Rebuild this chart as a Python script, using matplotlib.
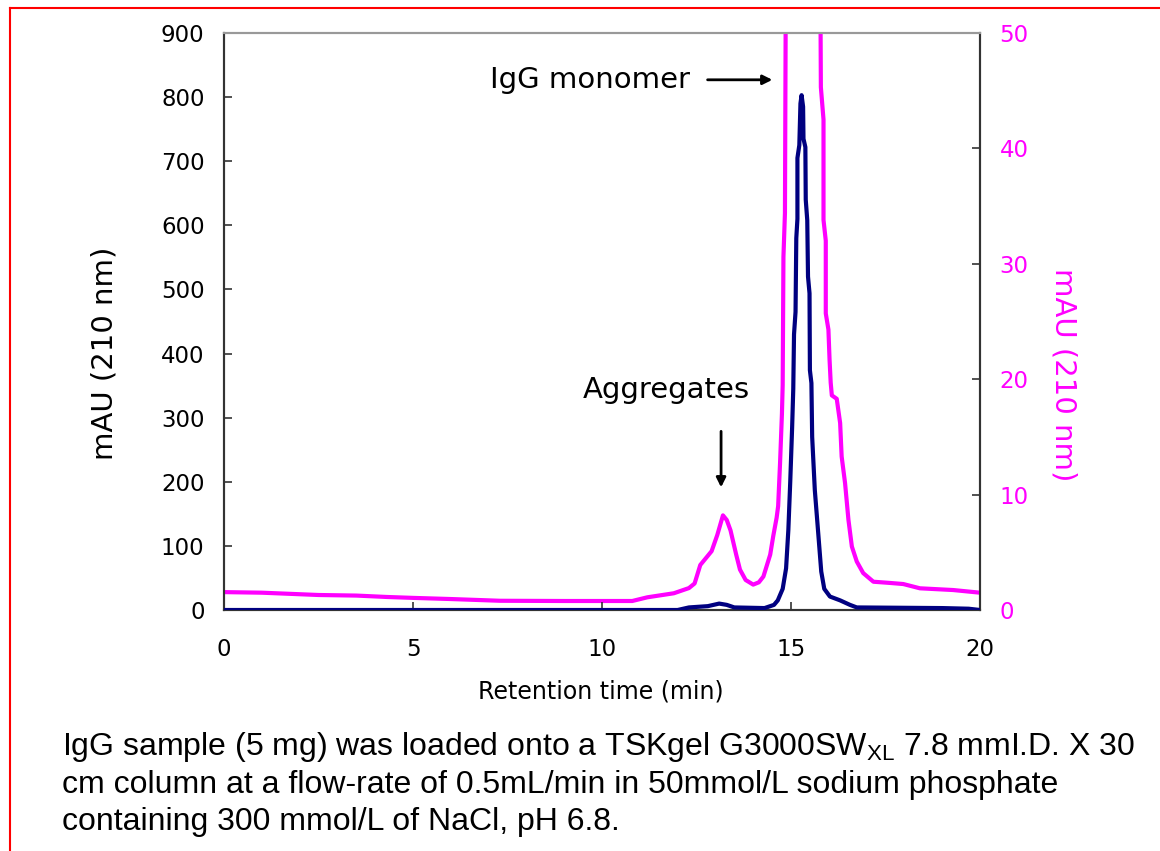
import matplotlib
matplotlib.use("Agg")
import matplotlib.pyplot as plt
from matplotlib.lines import Line2D

# ---- data ----
blue_t = [0, 12.0, 12.3, 12.8, 13.1, 13.3, 13.5, 14.3, 14.55, 14.65, 14.78, 14.87, 14.93,
          14.98, 15.03, 15.06, 15.08, 15.12, 15.14, 15.17, 15.17, 15.22, 15.25, 15.28,
          15.32, 15.33, 15.38, 15.39, 15.43, 15.45, 15.49, 15.50, 15.54, 15.56, 15.63,
          15.72, 15.80, 15.88, 16.03, 16.3, 16.56, 16.74, 19.0, 19.7, 20.0]
blue_v = [0, 0, 4, 6, 10, 8, 4, 3, 8, 15, 33, 65, 125,
          200, 285, 345, 430, 465, 580, 610, 705, 725, 790, 803,
          785, 735, 722, 640, 608, 520, 494, 374, 354, 270, 187,
          120, 60, 33, 21, 15, 8, 4, 3, 2, 0]

mag_t = [0, 1.0, 1.75, 2.5, 3.5, 4.3, 5.0, 6.0, 7.3, 9.0, 10.8, 11.2, 11.9, 12.3, 12.45,
         12.6, 12.75, 12.9, 13.05, 13.2, 13.3, 13.4, 13.55, 13.65, 13.8, 14.0, 14.15,
         14.27, 14.45, 14.53, 14.62, 14.66, 14.71, 14.76, 14.78, 14.80, 14.84, 14.86,
         15.3, 15.78, 15.79, 15.86, 15.86, 15.92, 15.92, 15.99, 16.02, 16.05, 16.08,
         16.21, 16.30, 16.34, 16.43, 16.52, 16.61, 16.74, 16.91, 17.18, 17.6, 17.97,
         18.41, 19.29, 20.0]
mag_v = [1.55, 1.5, 1.4, 1.3, 1.25, 1.13, 1.05, 0.95, 0.8, 0.78, 0.78, 1.1, 1.45, 1.9, 2.3,
         3.9, 4.5, 5.1, 6.5, 8.2, 7.8, 6.9, 4.8, 3.5, 2.6, 2.2, 2.4,
         2.9, 4.8, 6.4, 8.0, 9.0, 12.7, 17.0, 19.5, 30.6, 34.4, 52,
         80, 52, 45.3, 42.5, 33.8, 32.0, 25.7, 24.3, 21.7, 19.7, 18.6,
         18.3, 16.2, 13.3, 11.0, 7.8, 5.5, 4.2, 3.2, 2.45, 2.35, 2.25,
         1.88, 1.73, 1.5]

x_ticks = [0, 5, 10, 15, 20]
left_ticks = [0, 100, 200, 300, 400, 500, 600, 700, 800, 900]
right_ticks = [0, 10, 20, 30, 40, 50]

NAVY = "#000080"
MAG = "#FF00FF"
W, H = 1160, 851

plt.rcParams["mathtext.fontset"] = "custom"
plt.rcParams["mathtext.rm"] = "Liberation Sans"

fig = plt.figure(figsize=(W/100, H/100), dpi=100)
ax = fig.add_axes([224/W, 1-610/H, (980-224)/W, (610-33)/H])
ax2 = ax.twinx()

ax2.plot(mag_t, mag_v, color=MAG, lw=3.0, solid_joinstyle="round", zorder=2)
ax.plot(blue_t, blue_v, color=NAVY, lw=3.0, solid_joinstyle="round", zorder=3)
ax.set_zorder(ax2.get_zorder() + 1)
ax.patch.set_visible(False)

ax.set_xlim(0, 20)
ax.set_ylim(0, 900)
ax2.set_ylim(0, 50)
ax.set_xticks(x_ticks)
ax.set_yticks(left_ticks)
ax2.set_yticks(right_ticks)

ax.tick_params(axis="both", direction="in", length=6, width=1.2, colors="#333333",
               labelcolor="black", labelsize=16.5)
ax.tick_params(axis="y", pad=14)
ax.tick_params(axis="x", pad=20)
ax2.tick_params(axis="y", direction="in", length=6, width=1.2, colors="#333333",
                labelcolor=MAG, labelsize=16.5, pad=14)

for a in (ax, ax2):
    for s in ("left", "right", "bottom"):
        a.spines[s].set_color("#333333")
        a.spines[s].set_linewidth(1.5)
    a.spines["top"].set_color("#999999")
    a.spines["top"].set_linewidth(1.5)

# axis titles
fig.text(105/W, 1-353/H, "mAU (210 nm)", fontsize=21, rotation=90,
         ha="center", va="center")
fig.text(1063/W, 1-375/H, "mAU (210 nm)", fontsize=21, rotation=270, color=MAG,
         ha="center", va="center")
fig.text(601/W, 1-692/H, "Retention time (min)", fontsize=17, ha="center", va="center")

# annotations
ax.annotate("", xy=(14.58, 827), xytext=(12.72, 827),
            arrowprops=dict(arrowstyle="-|>", color="black", lw=2, mutation_scale=14))
ax.text(12.33, 827, "IgG monomer", fontsize=21, ha="right", va="center")
ax.annotate("", xy=(13.15, 187), xytext=(13.15, 283),
            arrowprops=dict(arrowstyle="-|>", color="black", lw=2, mutation_scale=14))
ax.text(11.69, 343, "Aggregates", fontsize=21, ha="center", va="center")

# caption
cap_font = dict(fontsize=23, family="Liberation Sans", ha="left", va="baseline")
fig.text(62/W, 1-755/H,
         r"IgG sample (5 mg) was loaded onto a TSKgel G3000SW$\mathregular{_{XL}}$ 7.8 mmI.D. X 30",
         **cap_font)
fig.text(62/W, 1-793/H,
         "cm column at a flow-rate of 0.5mL/min in 50mmol/L sodium phosphate", **cap_font)
fig.text(62/W, 1-830/H, "containing 300 mmol/L of NaCl, pH 6.8.", **cap_font)

# red frame
fig.add_artist(Line2D([9.5/W, 9.5/W], [0, 1-8/H], color="red", lw=1.5,
                      transform=fig.transFigure))
fig.add_artist(Line2D([9.5/W, 1], [1-8/H, 1-8/H], color="red", lw=1.5,
                      transform=fig.transFigure))

fig.savefig("out.png", dpi=100)
